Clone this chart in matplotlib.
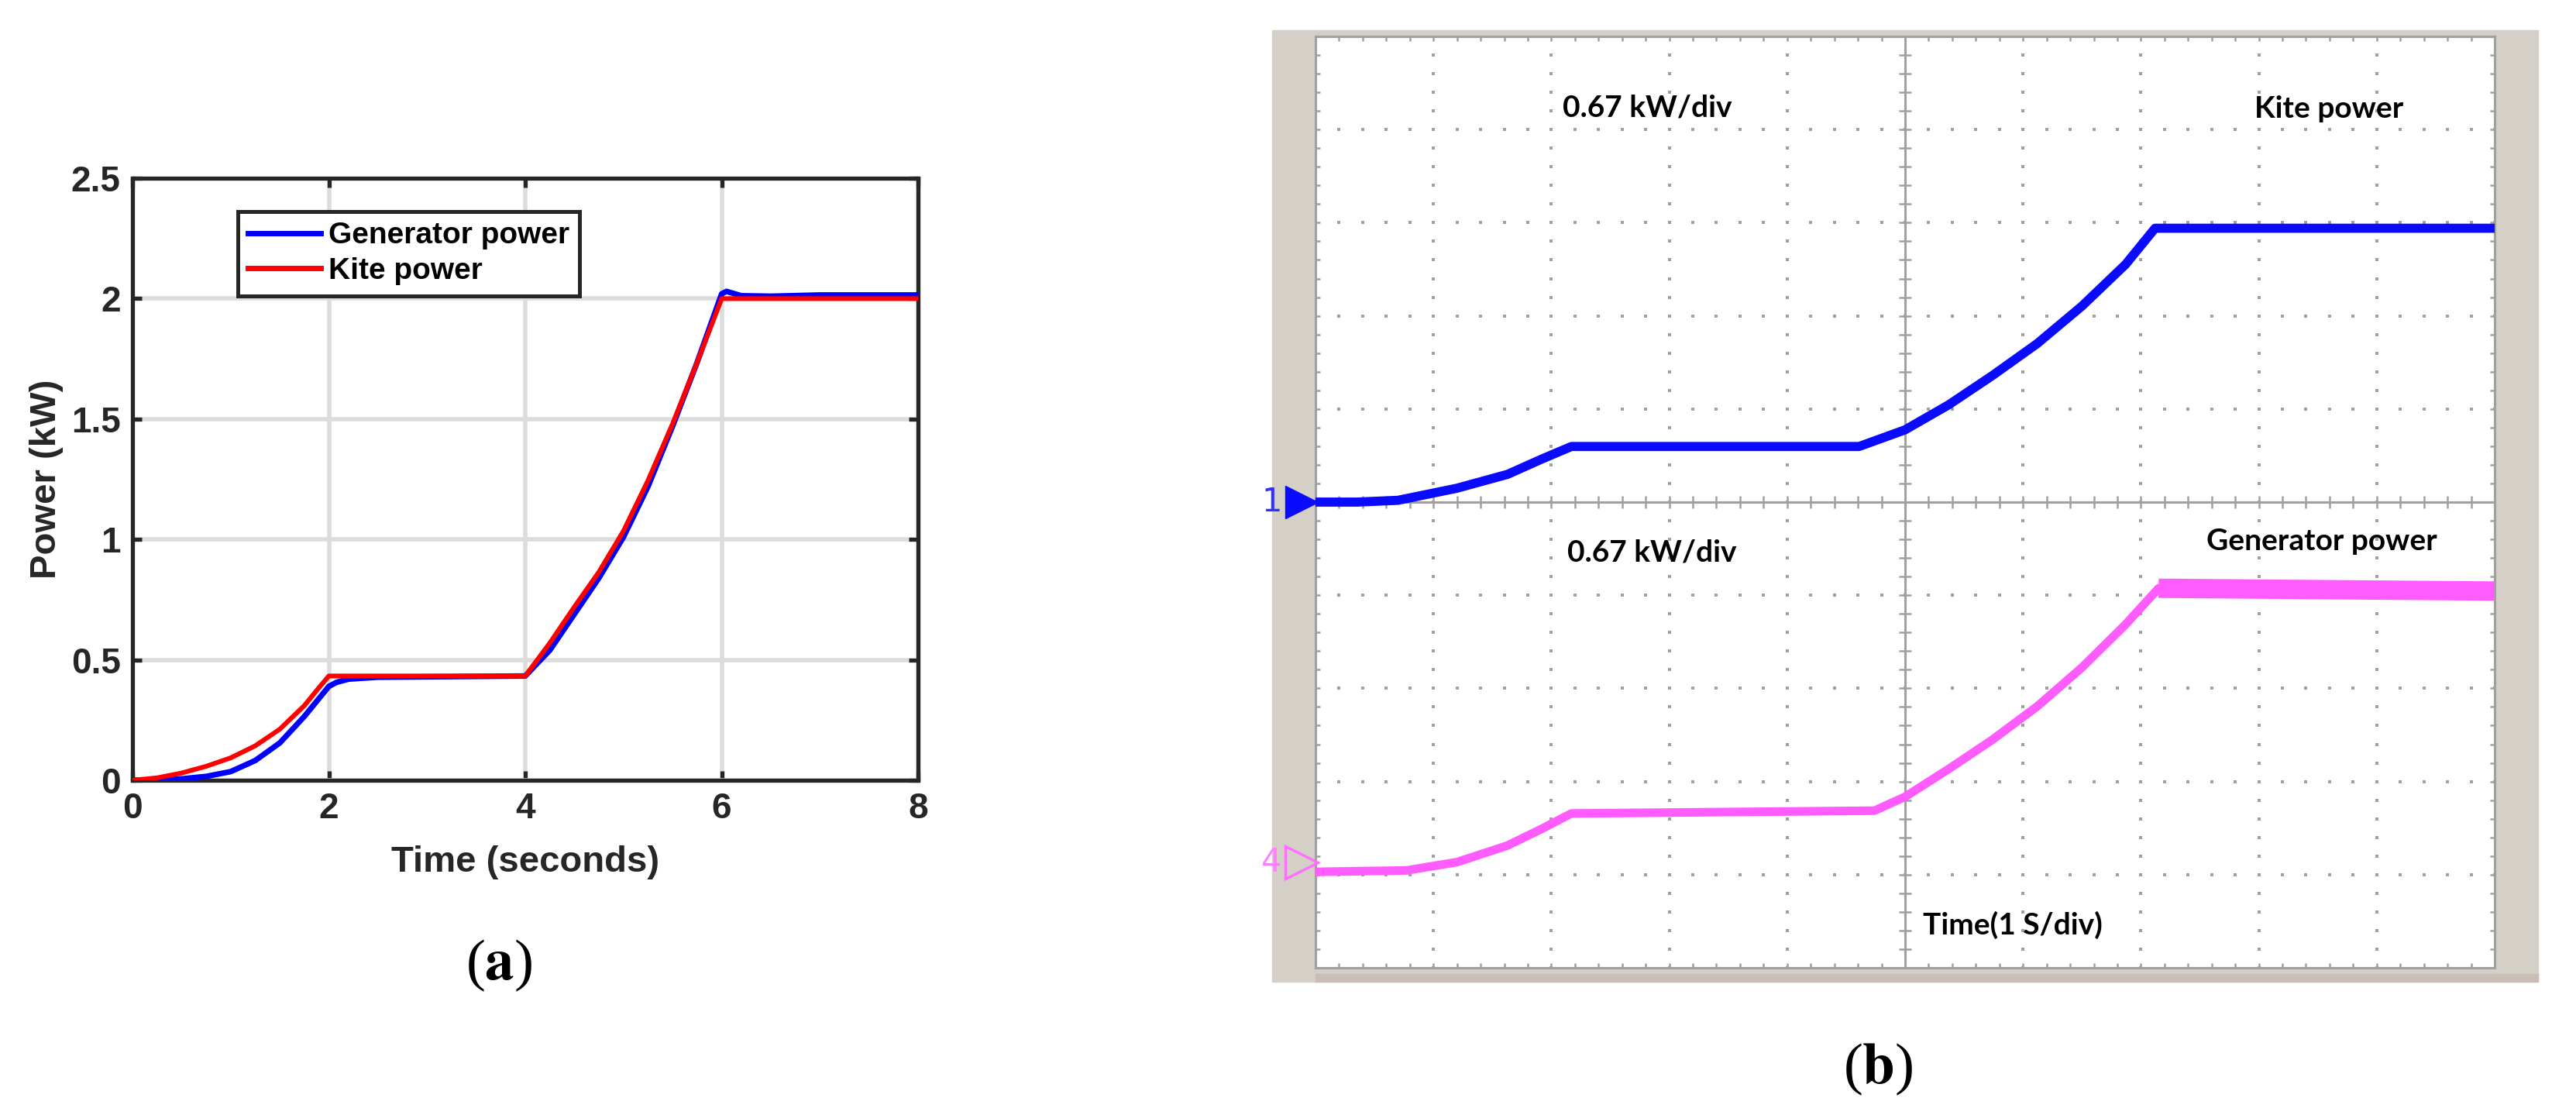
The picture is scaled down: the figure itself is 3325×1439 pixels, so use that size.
import numpy as np
import matplotlib
matplotlib.use('Agg')
import matplotlib.pyplot as plt
from matplotlib.patches import Rectangle

# ---- (a) simulation: time (s), power (kW)
kite_t = [0, 0.25, 0.5, 0.75, 1.0, 1.25, 1.5, 1.75, 1.9, 2.0, 4.0, 4.25, 4.5, 4.75, 5.0, 5.25, 5.5, 5.75, 6.0, 8.0]
kite_p = [0, 0.01, 0.03, 0.058, 0.093, 0.143, 0.212, 0.31, 0.385, 0.433, 0.433, 0.57, 0.72, 0.865, 1.035,
          1.245, 1.48, 1.735, 2.0, 2.0]
gen_t = [0, 0.25, 0.5, 0.75, 1.0, 1.25, 1.5, 1.75, 1.9, 2.0, 2.08, 2.2, 2.5, 4.0, 4.25, 4.5, 4.75, 5.0,
         5.25, 5.5, 5.75, 6.0, 6.05, 6.2, 6.5, 7.0, 8.0]
gen_p = [0, 0.002, 0.006, 0.016, 0.036, 0.082, 0.155, 0.265, 0.34, 0.39, 0.407, 0.42, 0.428, 0.433, 0.54,
         0.69, 0.84, 1.01, 1.22, 1.47, 1.735, 2.02, 2.03, 2.012, 2.01, 2.015, 2.015]
xticks_a = [0, 2, 4, 6, 8]
yticks_a = [0, 0.5, 1, 1.5, 2, 2.5]
ytick_labels_a = ['0', '0.5', '1', '1.5', '2', '2.5']

# ---- (b) oscilloscope capture: time (s, 1 s/div), power (kW, 0.67 kW/div)
kw_per_div = 0.67
ch1_offset = 0.0      # divisions
ch4_offset = -3.97
scope_kite_t = [0, 0.35, 0.70, 1.20, 1.63, 1.92, 2.17, 4.61, 5.0, 5.37, 5.74, 6.12, 6.50, 6.87, 7.12, 10]
scope_kite_p = [0, 0, 0.013, 0.10, 0.20, 0.31, 0.40, 0.40, 0.52, 0.70, 0.91, 1.14, 1.41, 1.71, 1.97, 1.97]
scope_gen_t = [0, 0.77, 1.20, 1.63, 1.92, 2.17, 4.74, 5.0, 5.37, 5.74, 6.12, 6.50, 6.87, 7.15, 10]
scope_gen_p = [0, 0.01, 0.07, 0.19, 0.31, 0.42, 0.44, 0.54, 0.74, 0.95, 1.19, 1.47, 1.78, 2.04, 2.02]

W, H = 3325, 1439
fig = plt.figure(figsize=(W / 100, H / 100), dpi=100)
fig.patch.set_facecolor('white')
plt.rcParams['mathtext.fontset'] = 'stix'

def fx(px):
    return px / W

def fy(py):
    return 1 - py / H

# ================= panel (a) =================
dark = '#262626'
axa = fig.add_axes([fx(171), fy(1007), fx(1185 - 171), (1007 - 230) / H])
axa.plot(gen_t, gen_p, color='#0000ff', lw=5.2, label='Generator power', zorder=3)
axa.plot(kite_t, kite_p, color='#ff0000', lw=4.4, label='Kite power', zorder=4)
axa.set_xlim(0, 8)
axa.set_ylim(0, 2.5)
axa.set_xticks(xticks_a)
axa.set_yticks(yticks_a)
axa.set_yticklabels(ytick_labels_a)
axa.grid(True, color='#dcdcdc', lw=4)
axa.set_axisbelow(True)
for s in axa.spines.values():
    s.set_color(dark)
    s.set_linewidth(3.8)
axa.tick_params(direction='in', length=8.6, width=3.8, color=dark, top=True, right=True,
                labelsize=33, labelcolor=dark, pad=11)
for lab in axa.get_xticklabels() + axa.get_yticklabels():
    lab.set_fontfamily('Liberation Sans')
    lab.set_fontweight('bold')
axa.set_xlabel('Time (seconds)', fontsize=34, fontweight='bold', family='Liberation Sans',
               color=dark, va='center')
axa.set_ylabel('Power (kW)', fontsize=34, fontweight='bold', family='Liberation Sans',
               color=dark, va='center')
axa.xaxis.set_label_coords(0.5, -(1113 - 1007) / 777)
axa.yaxis.set_label_coords(-(171 - 60) / 1014, 0.5)
leg = axa.legend(loc='upper left', bbox_to_anchor=(0.134, 0.945), borderaxespad=0,
                 prop={'family': 'Liberation Sans', 'weight': 'bold', 'size': 28},
                 handlelength=2.4, handletextpad=0.25, labelspacing=0.25, borderpad=0.35,
                 fancybox=False, framealpha=1)
leg.get_frame().set_edgecolor(dark)
leg.get_frame().set_linewidth(3.6)
for h in leg.get_lines():
    h.set_linewidth(5)

fig.text(fx(644), fy(1246), r'($\mathbf{a}$)', fontsize=54, family='Liberation Serif',
         ha='center', va='center')

# ================= panel (b) =================
grey = '#a0a0a0'
fig.patches.append(Rectangle((fx(1642), fy(1267)), fx(3276 - 1642), (1267 - 39) / H,
                             transform=fig.transFigure, color='#d4d0c8', zorder=-2))
fig.patches.append(Rectangle((fx(1698), fy(1267)), fx(3276 - 1698), 10 / H,
                             transform=fig.transFigure, color='#c9bdb6', zorder=-1))

axb = fig.add_axes([fx(1698), fy(1249), fx(3220 - 1698), (1249 - 47) / H])
axb.set_zorder(1)
axb.set_facecolor('white')
axb.set_xlim(0, 10)
axb.set_ylim(-5, 5)
for s in axb.spines.values():
    s.set_color(grey)
    s.set_linewidth(2.2)
sub_x = np.arange(0, 10.01, 0.2)
sub_y = np.arange(-5, 5.01, 0.2)
axb.set_xticks(sub_x)
axb.set_yticks(sub_y)
axb.tick_params(direction='in', length=4.5, width=1.8, color=grey, top=True, right=True,
                labelbottom=False, labelleft=False)

# dotted graticule
for gx in range(1, 10):
    if gx != 5:
        axb.plot(np.full_like(sub_y, gx), sub_y, ls='none', marker='s', ms=2.2, mew=0, color=grey)
for gy in range(-4, 5):
    if gy != 0:
        axb.plot(sub_x, np.full_like(sub_x, gy), ls='none', marker='s', ms=2.2, mew=0, color=grey)
axb.axhline(0, color=grey, lw=2.2)
axb.axvline(5, color=grey, lw=2.2)
axb.plot(sub_x, np.zeros_like(sub_x), ls='none', marker='|', ms=11, mew=1.8, color=grey)
axb.plot(np.full_like(sub_y, 5), sub_y, ls='none', marker='_', ms=11, mew=1.8, color=grey)

kite_div = np.array(scope_kite_p) / kw_per_div + ch1_offset
gen_div = np.array(scope_gen_p) / kw_per_div + ch4_offset
axb.plot(scope_kite_t, kite_div, color='#0a0aff', lw=8.5, solid_capstyle='butt',
         solid_joinstyle='round', zorder=5)
axb.plot(scope_gen_t, gen_div, color='#ff5cff', lw=8, solid_capstyle='butt',
         solid_joinstyle='round', zorder=5)
# noisy generator plateau band
axb.plot(scope_gen_t[-2:], gen_div[-2:], color='#ff5cff', lw=18, solid_capstyle='butt', zorder=5)

# channel markers
axb.plot([-0.12], [ch1_offset], marker='>', ms=30, color='#0a0aff', clip_on=False, zorder=6)
axb.text(-0.37, ch1_offset, '1', color='#3030ff', fontsize=30, ha='center', va='center',
         clip_on=False)
axb.plot([-0.12], [ch4_offset + 0.1], marker='>', ms=30, mfc='none', mec='#ff70ff', mew=2.4,
         clip_on=False, zorder=6)
axb.text(-0.37, ch4_offset + 0.1, '4', color='#ff80ff', fontsize=30, ha='center', va='center',
         clip_on=False)

tf = dict(family='Lato', fontweight='bold', fontsize=28, color='black', va='center', zorder=10)
fig.text(fx(2126), fy(139), '0.67 kW/div', ha='center', **tf)
fig.text(fx(2132), fy(713), '0.67 kW/div', ha='center', **tf)
fig.text(fx(3006), fy(141), 'Kite power', ha='center', **tf)
fig.text(fx(2997), fy(698), 'Generator power', ha='center', **tf)
fig.text(fx(2482), fy(1194), 'Time(1 S/div)', ha='left', **tf)

fig.text(fx(2424), fy(1380), r'($\mathbf{b}$)', fontsize=54, family='Liberation Serif',
         ha='center', va='center')

fig.savefig('out.png', dpi=100, facecolor='white')
